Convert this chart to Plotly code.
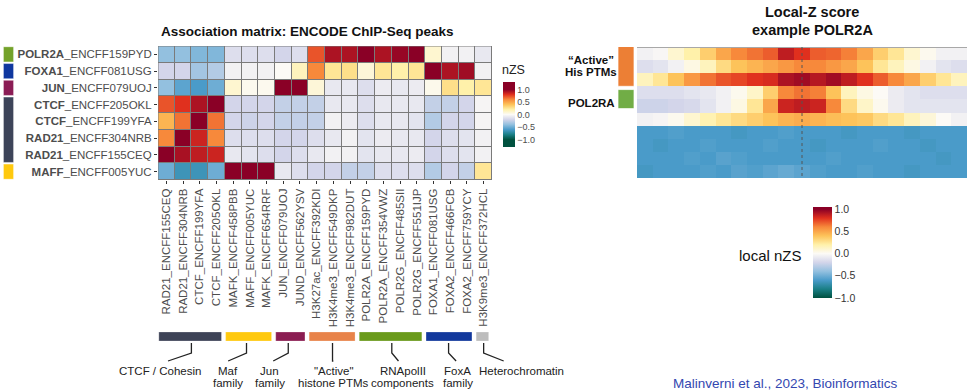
import plotly.graph_objects as go

W, H = 970, 391
def px(x): return x / W
def py(y): return 1 - y / H

FONT = "Liberation Sans, Arial, Helvetica, sans-serif"

# ---------------- data ----------------
row_genes = ["POLR2A", "FOXA1", "JUN", "CTCF", "CTCF", "RAD21", "RAD21", "MAFF"]
row_ids = ["ENCFF159PYD", "ENCFF081USG", "ENCFF079UOJ", "ENCFF205OKL",
           "ENCFF199YFA", "ENCFF304NRB", "ENCFF155CEQ", "ENCFF005YUC"]
col_labels = ["RAD21_ENCFF155CEQ", "RAD21_ENCFF304NRB", "CTCF_ENCFF199YFA", "CTCF_ENCFF205OKL",
              "MAFK_ENCFF458PBB", "MAFF_ENCFF005YUC", "MAFK_ENCFF654RRF", "JUN_ENCFF079UOJ",
              "JUND_ENCFF562YSV", "H3K27ac_ENCFF392KDI", "H3K4me3_ENCFF549DKP", "H3K4me3_ENCFF982DUT",
              "POLR2A_ENCFF159PYD", "POLR2A_ENCFF354VWZ", "POLR2G_ENCFF485SII", "POLR2G_ENCFF551IJP",
              "FOXA1_ENCFF081USG", "FOXA2_ENCFF466FCB", "FOXA2_ENCFF759YCY", "H3K9me3_ENCFF372HCL"]

nzs_polr2a = [-0.4, -0.4, -0.45, -0.45, -0.15, -0.15, -0.15, -0.2, -0.15, 0.72, 0.92, 0.92, 1.1, 0.92, 0.97, 1.0, 0.1, -0.05, -0.05, -0.1]
nzs_foxa1 = [-0.2, -0.2, -0.35, -0.3, -0.05, -0.05, -0.05, 0.0, 0.15, 0.6, 0.25, 0.28, 0.08, 0.25, 0.2, 0.25, 1.1, 0.92, 0.95, -0.05]
nzs_jun = [-0.4, -0.55, -0.6, -0.5, 0.1, 0.02, 0.02, 1.1, 1.1, 0.08, -0.1, -0.1, -0.15, -0.08, -0.1, -0.08, 0.03, 0.28, 0.2, 0.25]
nzs_ctcf_205 = [0.72, 0.8, 0.92, 1.1, -0.2, -0.2, -0.2, -0.25, -0.25, -0.25, -0.1, -0.1, -0.15, -0.1, -0.1, -0.1, -0.25, -0.25, -0.2, -0.03]
nzs_ctcf_199 = [0.45, 0.65, 1.0, 0.65, -0.2, -0.22, -0.2, -0.25, -0.25, -0.25, -0.05, -0.08, -0.15, -0.1, -0.1, -0.12, -0.3, -0.2, -0.2, -0.03]
nzs_rad21_304 = [0.6, 1.05, 0.85, 0.6, -0.15, -0.15, -0.15, -0.2, -0.2, -0.15, -0.1, -0.05, -0.12, -0.08, -0.1, -0.1, -0.2, -0.15, -0.12, -0.05]
nzs_rad21_155 = [1.1, 0.93, 0.88, 0.85, -0.1, -0.12, -0.15, -0.2, -0.15, -0.1, -0.05, -0.05, -0.12, -0.1, -0.1, -0.08, -0.2, -0.15, -0.12, -0.05]
nzs_maff = [-0.5, -0.65, -0.65, -0.5, 1.1, 1.1, 1.1, -0.1, -0.15, -0.2, -0.2, -0.25, -0.25, -0.15, -0.15, -0.15, -0.3, -0.2, -0.25, 0.25]
nzs_matrix = [nzs_polr2a, nzs_foxa1, nzs_jun, nzs_ctcf_205, nzs_ctcf_199,
              nzs_rad21_304, nzs_rad21_155, nzs_maff]

row_group_colors = ["#74a22a", "#0f379f", "#8b1c55", "#3d4459", "#ffc90e"]
row_group_first = [0, 1, 2, 3, 7]
row_group_last = [0, 1, 2, 6, 7]

group_line1 = ["CTCF / Cohesin", "Maf", "Jun", "\"Active\"", "RNApolII", "FoxA", "Heterochromatin"]
group_line2 = ["", "family", "family", "histone PTMs", "components", "family", ""]
group_first = [0, 4, 7, 9, 12, 16, 19]
group_last = [3, 6, 8, 11, 15, 18, 19]
group_colors = ["#3e4357", "#ffc90e", "#8b1d52", "#e8834a", "#6a9a1b", "#12389c", "#bdbdbd"]

# local-Z score profiles (10 tracks x 21 positions)
local_rows = [
    [-0.05, -0.02, 0.1, 0.2, 0.35, 0.5, 0.6, 0.65, 0.7, 0.88, 0.8, 0.7, 0.68, 0.62, 0.5, 0.35, 0.25, 0.1, 0.02, -0.05, -0.05],
    [-0.15, -0.12, -0.05, 0.05, 0.15, 0.3, 0.4, 0.45, 0.5, 0.55, 0.6, 0.6, 0.55, 0.5, 0.4, 0.25, 0.15, 0.05, -0.05, -0.12, -0.15],
    [0.15, 0.25, 0.4, 0.55, 0.65, 0.72, 0.75, 0.8, 0.82, 0.92, 0.95, 0.9, 0.95, 0.88, 0.8, 0.7, 0.6, 0.5, 0.35, 0.25, 0.15],
    [-0.15, -0.15, -0.15, -0.12, -0.1, -0.05, 0.02, 0.12, 0.35, 0.6, 0.65, 0.62, 0.4, 0.15, 0.05, 0.0, -0.08, -0.12, -0.15, -0.15, -0.15],
    [-0.22, -0.22, -0.2, -0.18, -0.12, -0.05, 0.05, 0.25, 0.5, 0.85, 0.88, 0.85, 0.6, 0.3, 0.12, 0.02, -0.08, -0.12, -0.12, -0.12, -0.12],
    [-0.05, -0.03, 0.02, 0.1, 0.18, 0.25, 0.3, 0.35, 0.4, 0.45, 0.48, 0.45, 0.42, 0.4, 0.38, 0.3, 0.25, 0.15, 0.08, 0.0, -0.05],
    [-0.6, -0.6, -0.58, -0.6, -0.6, -0.6, -0.62, -0.6, -0.6, -0.58, -0.6, -0.6, -0.6, -0.62, -0.6, -0.6, -0.6, -0.62, -0.6, -0.6, -0.6],
    [-0.6, -0.62, -0.6, -0.6, -0.58, -0.6, -0.6, -0.6, -0.58, -0.6, -0.6, -0.62, -0.6, -0.6, -0.6, -0.58, -0.6, -0.6, -0.62, -0.6, -0.6],
    [-0.6, -0.6, -0.6, -0.58, -0.6, -0.56, -0.58, -0.6, -0.6, -0.6, -0.6, -0.6, -0.58, -0.6, -0.6, -0.6, -0.6, -0.6, -0.6, -0.62, -0.6],
    [-0.62, -0.6, -0.6, -0.6, -0.58, -0.6, -0.56, -0.58, -0.55, -0.52, -0.55, -0.58, -0.6, -0.6, -0.58, -0.6, -0.6, -0.62, -0.6, -0.6, -0.6],
]
local_label_first = [0, 3]
local_label_last = [2, 4]

cbar_ticks = [-1.0, -0.5, 0.0, 0.5, 1.0]
cbar_ticktext = ["\u22121.0", "\u22120.5", "0.0", "0.5", "1.0"]

# ---------------- style ----------------
stops = [(-1.0, "#00513f"), (-0.8, "#1a7f86"), (-0.6, "#4a9bc9"), (-0.4, "#93c0df"),
         (-0.2, "#d3d5ea"), (0.0, "#fcfaf6"), (0.2, "#fff1aa"), (0.4, "#fdc35a"),
         (0.6, "#f7893b"), (0.8, "#e0301e"), (1.0, "#8a0026")]

def make_scale(zmin, zmax):
    out = []
    for v, c in stops:
        f = (v - zmin) / (zmax - zmin)
        if 0 <= f <= 1:
            out.append([f, c])
    if out[0][0] > 0:
        out.insert(0, [0.0, out[0][1]])
    if out[-1][0] < 1:
        out.append([1.0, out[-1][1]])
    return out

X_DOM = [px(158), px(492)]
Y_DOM = [py(180), py(46)]
X_RANGE = [-0.5, len(col_labels) - 0.5]
X2_DOM = [px(637), px(967)]
Y2_DOM = [py(178), py(47)]

def colx(c):
    return X_DOM[0] + (c - X_RANGE[0]) / (X_RANGE[1] - X_RANGE[0]) * (X_DOM[1] - X_DOM[0])

row_ticktext = [f"<b>{g}</b>_{i}" for g, i in zip(row_genes, row_ids)]

fig = go.Figure()

fig.add_trace(go.Heatmap(
    z=nzs_matrix, x=list(range(len(col_labels))), y=list(range(len(row_genes))),
    zmin=-1.3, zmax=1.3, colorscale=make_scale(-1.3, 1.3),
    xgap=1, ygap=1, xaxis="x", yaxis="y", hoverinfo="skip",
    colorbar=dict(x=px(503), xanchor="left", y=py(114.5), yanchor="middle",
                  lenmode="pixels", len=65, thicknessmode="pixels", thickness=12,
                  xpad=0, ypad=0, outlinewidth=0, ticks="",
                  tickvals=cbar_ticks, ticktext=cbar_ticktext,
                  tickfont=dict(size=9, color="#4d4d4d", family=FONT)),
))

fig.add_trace(go.Heatmap(
    z=local_rows, x=list(range(len(local_rows[0]))), y=list(range(len(local_rows))),
    zmin=-1.0, zmax=1.05, colorscale=make_scale(-1.0, 1.05),
    xaxis="x2", yaxis="y2", hoverinfo="skip",
    colorbar=dict(x=px(813), xanchor="left", y=py(252.5), yanchor="middle",
                  lenmode="pixels", len=91, thicknessmode="pixels", thickness=19,
                  xpad=0, ypad=0, outlinewidth=0, ticks="",
                  tickvals=cbar_ticks, ticktext=cbar_ticktext,
                  tickfont=dict(size=10.5, color="#333333", family=FONT)),
))

shapes = []
annotations = []

# border of matrix
shapes.append(dict(type="rect", xref="x", yref="y", x0=-0.5, x1=len(col_labels) - 0.5,
                   y0=-0.5, y1=len(row_genes) - 0.5, line=dict(color="#7a7a7a", width=1)))

# row group squares
for c, a, b in zip(row_group_colors, row_group_first, row_group_last):
    shapes.append(dict(type="rect", xref="paper", yref="y", x0=px(3.5), x1=px(13.5),
                       y0=a - 0.45, y1=b + 0.45, fillcolor=c,
                       line=dict(color="rgba(255,255,255,0.6)", width=0.5)))

# group bars + connectors + labels
bar_top, bar_bot = 332, 341
label_dx = [-1.9, -1.3, -1.3, 0.0, 0.65, 0.45, 2.25]
elbow_dx = [-1.4, -1.3, -1.1, 0.0, 0.4, 0.35, 1.2]
vert_dx = [0.0, -0.2, -0.2, -0.05, 0.0, -0.1, 0.0]
for i in range(len(group_line1)):
    a, b = group_first[i], group_last[i]
    shapes.append(dict(type="rect", xref="x", yref="paper",
                       x0=a - 0.45, x1=b + 0.3, y0=py(bar_bot), y1=py(bar_top),
                       fillcolor=group_colors[i], line=dict(color="rgba(255,255,255,0.5)", width=0.5)))
    cx = (a + b) / 2 + vert_dx[i]
    ex = (a + b) / 2 + elbow_dx[i]
    path = (f"M {colx(cx)},{py(343)} L {colx(cx)},{py(353 if elbow_dx[i] else 361)} "
            f"L {colx(ex)},{py(361)}")
    shapes.append(dict(type="path", xref="paper", yref="paper", path=path,
                       line=dict(color="#222222", width=1.3)))
    lx = colx((a + b) / 2 + label_dx[i])
    annotations.append(dict(x=lx, y=py(370.5), xref="paper", yref="paper", text=group_line1[i],
                            showarrow=False, xanchor="center", yanchor="middle",
                            font=dict(size=11.5, color="#222222", family=FONT)))
    if group_line2[i]:
        annotations.append(dict(x=lx, y=py(382.5), xref="paper", yref="paper", text=group_line2[i],
                                showarrow=False, xanchor="center", yanchor="middle",
                                font=dict(size=11.5, color="#222222", family=FONT)))

# right panel decorations
shapes.append(dict(type="line", xref="x2", yref="y2", x0=-0.5, x1=len(local_rows[0]) - 0.5,
                   y0=-0.5, y1=-0.5, line=dict(color="#a8a8a8", width=2)))
center_col = (len(local_rows[0]) - 1) / 2
shapes.append(dict(type="line", xref="x2", yref="y2", x0=center_col, x1=center_col,
                   y0=-0.5, y1=len(local_rows) - 0.5, line=dict(color="#555555", width=1, dash="dot")))
for c, a, b in zip(["#ec7f35", "#71ad46"], local_label_first, local_label_last):
    shapes.append(dict(type="rect", xref="paper", yref="y2", x0=px(618), x1=px(634),
                       y0=a - 0.6 if a == 0 else a - 0.25, y1=b + 0.5 if a == 0 else b + 0.2,
                       fillcolor=c, line=dict(color="rgba(255,255,255,0.7)", width=1)))

# titles and texts
annotations += [
    dict(x=px(159), y=py(32), xref="paper", yref="paper", xanchor="left", yanchor="middle",
         text="<b>Association matrix: ENCODE ChIP-Seq peaks</b>", showarrow=False,
         font=dict(size=13.5, color="#111111", family=FONT)),
    dict(x=px(500), y=py(70), xref="paper", yref="paper", xanchor="left", yanchor="middle",
         text="nZS", showarrow=False, font=dict(size=12.5, color="#222222", family=FONT)),
    dict(x=px(812), y=py(12), xref="paper", yref="paper", xanchor="center", yanchor="middle",
         text="<b>Local-Z score</b>", showarrow=False, font=dict(size=14.5, color="#111111", family=FONT)),
    dict(x=px(812), y=py(29.5), xref="paper", yref="paper", xanchor="center", yanchor="middle",
         text="<b>example POLR2A</b>", showarrow=False, font=dict(size=14.5, color="#111111", family=FONT)),
    dict(x=px(591), y=py(60), xref="paper", yref="paper", xanchor="center", yanchor="middle",
         text="<b>\u201cActive\u201d</b>", showarrow=False, font=dict(size=11.5, color="#111111", family=FONT)),
    dict(x=px(591), y=py(72), xref="paper", yref="paper", xanchor="center", yanchor="middle",
         text="<b>His PTMs</b>", showarrow=False, font=dict(size=11.5, color="#111111", family=FONT)),
    dict(x=px(591), y=py(103), xref="paper", yref="paper", xanchor="center", yanchor="middle",
         text="<b>POL2RA</b>", showarrow=False, font=dict(size=11.5, color="#111111", family=FONT)),
    dict(x=px(804), y=py(255), xref="paper", yref="paper", xanchor="right", yanchor="middle",
         text="local nZS", showarrow=False, font=dict(size=15, color="#111111", family=FONT)),
    dict(x=px(785.5), y=py(383), xref="paper", yref="paper", xanchor="center", yanchor="middle",
         text="Malinverni et al., 2023, Bioinformatics", showarrow=False,
         font=dict(size=13.5, color="#3347b0", family=FONT)),
]

fig.update_layout(
    width=W, height=H, margin=dict(l=0, r=0, t=0, b=0),
    paper_bgcolor="white", plot_bgcolor="#7a7a7a", showlegend=False,
    font=dict(family=FONT),
    xaxis=dict(domain=X_DOM, range=X_RANGE, tickvals=list(range(len(col_labels))),
               ticktext=col_labels, tickangle=-90, ticks="outside", ticklen=3,
               tickcolor="#333333", tickwidth=1,
               tickfont=dict(size=11.5, color="#4d4d4d", family=FONT),
               showgrid=False, zeroline=False, showline=False, fixedrange=True),
    yaxis=dict(domain=Y_DOM, range=[len(row_genes) - 0.5, -0.5],
               tickvals=list(range(len(row_genes))), ticktext=row_ticktext,
               ticks="outside", ticklen=3, tickcolor="#333333", tickwidth=1,
               tickfont=dict(size=11.5, color="#4d4d4d", family=FONT),
               showgrid=False, zeroline=False, showline=False, fixedrange=True),
    xaxis2=dict(domain=X2_DOM, range=[-0.5, len(local_rows[0]) - 0.5], visible=False,
                anchor="y2", fixedrange=True),
    yaxis2=dict(domain=Y2_DOM, range=[len(local_rows) - 0.5, -0.5], visible=False,
                anchor="x2", fixedrange=True),
    shapes=shapes, annotations=annotations,
)

fig.write_html("out.html", config={"displayModeBar": False},
               post_script="document.body.style.margin='0px';document.body.style.overflow='hidden';")
